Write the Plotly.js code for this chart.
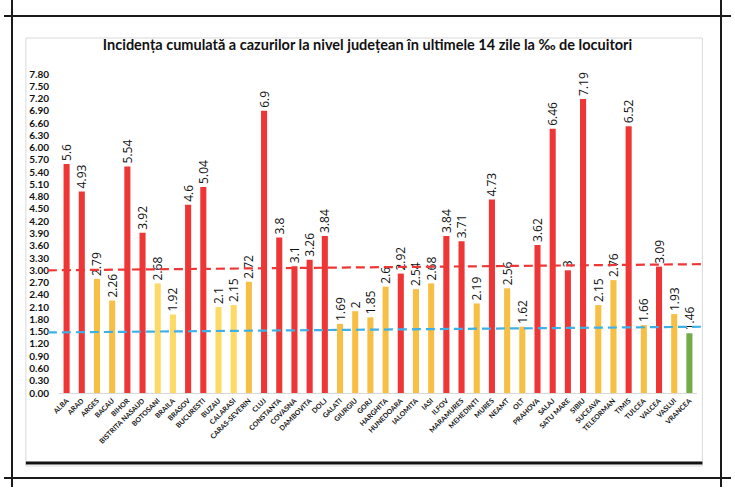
<!DOCTYPE html>
<html>
<head>
<meta charset="utf-8">
<script src="https://cdn.plot.ly/plotly-3.0.1.min.js"></script>
<style>
  html, body { margin: 0; padding: 0; background: #ffffff; }
  #wrap { position: relative; width: 735px; height: 489px; overflow: hidden; }
  #chart { position: absolute; left: 0; top: 0; width: 735px; height: 489px; }
  .fl { position: absolute; background: #1a1a1a; pointer-events: none; }
</style>
</head>
<body>
<div id="wrap">
  <div id="chart"></div>
  <div class="fl" style="left:4px; top:15px; width:727px; height:1.5px;"></div>
  <div class="fl" style="left:4px; top:477px; width:727px; height:1.5px;"></div>
  <div class="fl" style="left:11px; top:0px; width:1.5px; height:487px;"></div>
  <div class="fl" style="left:720px; top:0px; width:1.5px; height:487px;"></div>
</div>
<script>
const counties = ["ALBA","ARAD","ARGES","BACAU","BIHOR","BISTRITA NASAUD","BOTOSANI","BRAILA","BRASOV","BUCURESTI",
  "BUZAU","CALARASI","CARAS-SEVERIN","CLUJ","CONSTANTA","COVASNA","DAMBOVITA","DOLJ","GALATI","GIURGIU",
  "GORJ","HARGHITA","HUNEDOARA","IALOMITA","IASI","ILFOV","MARAMURES","MEHEDINTI","MURES","NEAMT",
  "OLT","PRAHOVA","SALAJ","SATU MARE","SIBIU","SUCEAVA","TELEORMAN","TIMIS","TULCEA","VALCEA",
  "VASLUI","VRANCEA"];
const incidence = [5.6,4.93,2.79,2.26,5.54,3.92,2.68,1.92,4.6,5.04,
  2.1,2.15,2.72,6.9,3.8,3.1,3.26,3.84,1.69,2,
  1.85,2.6,2.92,2.54,2.68,3.84,3.71,2.19,4.73,2.56,
  1.62,3.62,6.46,3,7.19,2.15,2.76,6.52,1.66,3.09,
  1.93,1.46];
// scenario level per county: R = red, O = orange, Y = light yellow, G = green
const levels = ["R","R","O","O","R","R","Y","Y","R","R",
  "Y","Y","O","R","R","R","R","R","O","O",
  "O","O","R","O","O","R","R","O","R","O",
  "O","R","R","R","R","O","O","R","O","R",
  "O","G"];
const redThreshold = [3.0, 3.15];   // dashed red line, left end / right end
const blueThreshold = [1.48, 1.62]; // dashed blue line, left end / right end
const yTickStep = 0.3;
const yMax = 7.8;

const palette = {R: "#EE3636", O: "#F8BF45", Y: "#FFD966", G: "#70AD47"};
const barColors = levels.map(l => palette[l]);

// plot area in pixels
const PL = 59.1, PR = 696.6, PT = 74, PB = 393, W = 735, H = 489;
const px2x = px => (px - PL) / (PR - PL);
const px2y = py => (PB - py) / (PB - PT);

const trace = {
  type: "bar",
  x: counties,
  y: incidence,
  marker: {color: barColors},
  text: incidence.map(v => String(v)),
  textposition: "outside",
  textangle: -90,
  cliponaxis: false,
  constraintext: "none",
  textfont: {family: "Open Sans", size: 12, color: "#111111"},
  hoverinfo: "x+y"
};

const shapes = [
  // inner light box
  {type: "rect", xref: "paper", yref: "paper", x0: px2x(26), x1: px2x(702), y0: px2y(38), y1: px2y(466), line: {color: "#D9D9D9", width: 1}, layer: "below"},
  // thick bottom line
  {type: "line", xref: "paper", yref: "paper", x0: px2x(26), x1: px2x(702), y0: px2y(463), y1: px2y(463), line: {color: "#111", width: 3}},
  // threshold dashed lines
  {type: "line", xref: "paper", yref: "y", x0: px2x(48), x1: px2x(701), y0: redThreshold[0], y1: redThreshold[1], line: {color: "#EE3636", width: 2.2, dash: "9px,5px"}},
  {type: "line", xref: "paper", yref: "y", x0: px2x(48), x1: px2x(701), y0: blueThreshold[0], y1: blueThreshold[1], line: {color: "#3CB1E8", width: 2.2, dash: "9px,5px"}}
];

const layout = {
  width: W, height: H,
  margin: {l: PL, r: W - PR, t: PT, b: H - PB, pad: 0},
  paper_bgcolor: "#ffffff",
  plot_bgcolor: "rgba(0,0,0,0)",
  showlegend: false,
  bargap: 0.6,
  title: {
    text: "<b>Incidența cumulată a cazurilor la nivel județean în ultimele 14 zile la ‰ de locuitori</b>",
    font: {family: "Lato", size: 14.5, color: "#111111"},
    x: 0.5, xref: "container", xanchor: "center",
    y: 1 - 45 / H, yref: "container", yanchor: "middle"
  },
  xaxis: {
    type: "category",
    tickangle: -45,
    tickfont: {family: "Lato", size: 7, color: "#111111", weight: "bold"},
    showline: true, linecolor: "#D9D9D9", linewidth: 1,
    ticks: "", showgrid: false, zeroline: false,
    fixedrange: true
  },
  yaxis: {
    range: [0, yMax + 0.0001],
    tick0: 0, dtick: yTickStep,
    tickformat: ".2f",
    tickfont: {family: "Lato", size: 10, color: "#111111", weight: "bold"},
    ticks: "", showgrid: false, zeroline: false, showline: false,
    ticklabelstandoff: 9,
    fixedrange: true
  },
  shapes: shapes
};

Plotly.newPlot("chart", [trace], layout, {displayModeBar: false, staticPlot: true});
</script>
</body>
</html>
